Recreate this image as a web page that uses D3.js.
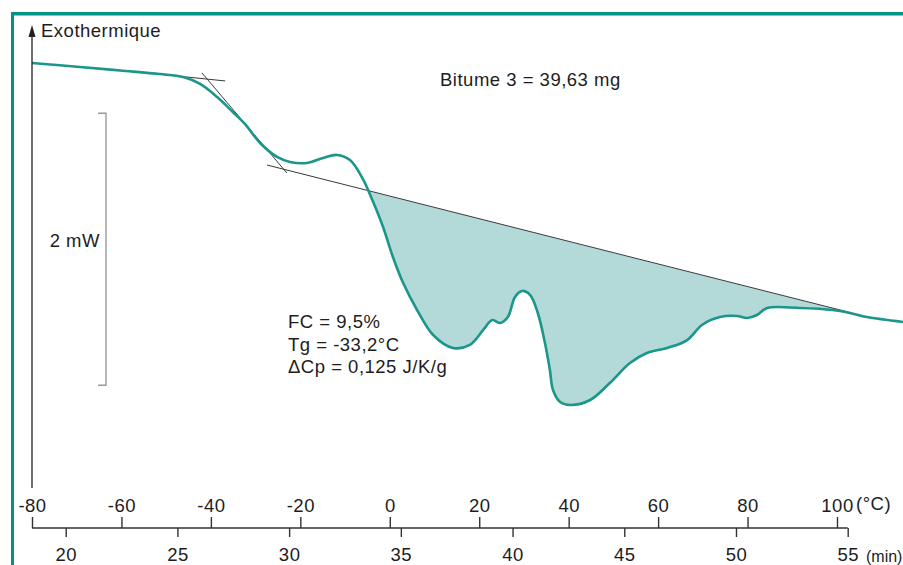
<!DOCTYPE html>
<html>
<head>
<meta charset="utf-8">
<script src="https://cdn.jsdelivr.net/npm/d3@7"></script>
<style>
	body { margin: 0; background: #fff; }
	svg { display: block; font-family: "Liberation Sans", Arial, sans-serif; }
	.lbl { font-size: 18.5px; fill: #1e1c1d; letter-spacing: 0.5px; }
	.axis text { font-size: 18.5px; fill: #1e1c1d; letter-spacing: 0.5px; }
	.axis line { stroke: #333; stroke-width: 1.4; }
</style>
</head>
<body>
<div id="chart"></div>
<script>
	// DSC trace (temperature in degC, heat flow in mW, arbitrary offset)
	var tempC = [-80, -69.3, -60.3, -51.4, -46.2, -42.4, -38.6, -35.1, -32.4, -29.0,
		-25.2, -22.3, -18.5, -14.9, -11.8, -8.9, -6.0, -3.8, -1.5, 0.7,
		3.0, 6.1, 9.7, 14.1, 17.9, 20.9, 22.9, 24.7, 26.4, 28.0,
		29.6, 31.4, 33.1, 34.7, 35.8, 36.5, 38.1, 40.3, 44.8, 49.2,
		53.7, 57.5, 62.0, 66.5, 69.8, 73.8, 77.6, 79.9, 82.1, 84.4,
		91.7, 99.1, 102.9, 106.7, 114.8];
	var heatFlow = [3.419, 3.390, 3.364, 3.338, 3.316, 3.265, 3.169, 3.059, 2.971, 2.831,
		2.728, 2.691, 2.684, 2.721, 2.743, 2.706, 2.566, 2.404, 2.213, 1.993,
		1.801, 1.603, 1.419, 1.324, 1.346, 1.456, 1.529, 1.507, 1.551, 1.699,
		1.743, 1.713, 1.581, 1.360, 1.162, 1.015, 0.926, 0.904, 0.941, 1.066,
		1.213, 1.287, 1.324, 1.382, 1.493, 1.551, 1.559, 1.544, 1.566, 1.618,
		1.618, 1.603, 1.581, 1.551, 1.515];

	// construction lines [ [T, mW], [T, mW] ]
	var upperTangent = [[-51.8, 3.338], [-36.8, 3.287]];
	var slopeTangent = [[-42.0, 3.346], [-23.0, 2.610]];
	var lowerBaseline = [[-27.45, 2.669], [103.35, 1.581]];

	var tempTicks = [-80, -60, -40, -20, 0, 20, 40, 60, 80, 100];
	var minTicks = [20, 25, 30, 35, 40, 45, 50, 55];
	var scaleBar = [1.05, 3.05]; // 2 mW bar

	var sampleLabel = "Bitume 3 = 39,63 mg";
	var resultLines = ["FC = 9,5%", "Tg = -33,2°C", "\u0394Cp = 0,125 J/K/g"];

	var WIDTH = 903, HEIGHT = 565, AXIS_Y = 528;
	var TEAL = "#1a968b", FRAME = "#009487", FILL = "#b3d9d9";

	var svg = d3.select("#chart").append("svg").attr("width", WIDTH).attr("height", HEIGHT);

	var xT = d3.scaleLinear().domain([-80, 100]).range([32, 837]);
	var xMin = d3.scaleLinear().domain([20, 55]).range([65.7, 847.7]);
	var yScale = d3.scaleLinear().domain([0, 3.5]).range([AXIS_Y, 52]);

	// frame
	svg.append("rect").attr("x", 11).attr("y", 12).attr("width", WIDTH - 11).attr("height", 3.5)
		.attr("fill", FRAME);
	svg.append("rect").attr("x", 11).attr("y", 12).attr("width", 3).attr("height", HEIGHT - 12)
		.attr("fill", FRAME);

	var data = tempC.map(function(t, i) { return { t: t, v: heatFlow[i] }; });

	function baseAt(t) {
		var a = lowerBaseline[0], b = lowerBaseline[1];
		return a[1] + (t - a[0]) * (b[1] - a[1]) / (b[0] - a[0]);
	}

	// clip: region below the baseline, between its ends
	var clipPts = [lowerBaseline[0], lowerBaseline[1]].map(function(p) {
		return [xT(p[0]), yScale(p[1])];
	});
	svg.append("defs").append("clipPath").attr("id", "under").append("polygon")
		.attr("points", [clipPts[0], clipPts[1], [clipPts[1][0], AXIS_Y], [clipPts[0][0], AXIS_Y]]
			.map(function(p) { return p.join(","); }).join(" "));

	var areaGen = d3.area().curve(d3.curveCatmullRom.alpha(0.5))
		.x(function(d) { return xT(d.t); })
		.y0(function(d) { return yScale(baseAt(d.t)); })
		.y1(function(d) { return yScale(d.v); });
	svg.append("path").attr("d", areaGen(data)).attr("fill", FILL).attr("clip-path", "url(#under)");

	// construction lines
	var segGen = d3.line().x(function(d) { return xT(d[0]); }).y(function(d) { return yScale(d[1]); });
	[upperTangent, slopeTangent, lowerBaseline].forEach(function(seg) {
		svg.append("path").attr("d", segGen(seg)).attr("stroke", "#3a3a3a")
			.attr("stroke-width", 1).attr("fill", "none");
	});

	// DSC curve
	var lineGen = d3.line().curve(d3.curveCatmullRom.alpha(0.5))
		.x(function(d) { return xT(d.t); })
		.y(function(d) { return yScale(d.v); });
	svg.append("path").attr("d", lineGen(data)).attr("stroke", TEAL).attr("stroke-width", 2.6)
		.attr("fill", "none");

	// vertical axis with arrow
	svg.append("line").attr("x1", xT(-80)).attr("x2", xT(-80)).attr("y1", 34).attr("y2", 488)
		.attr("stroke", "#231f20").attr("stroke-width", 1.3);
	svg.append("path").attr("d", "M" + xT(-80) + ",25 l-3.5,12 l7,0 z").attr("fill", "#231f20");
	svg.append("text").attr("class", "lbl").attr("x", 41).attr("y", 37).text("Exothermique");

	// 2 mW scale bar
	svg.append("path").attr("d", "M98," + yScale(scaleBar[1]) + " H106 V" + yScale(scaleBar[0]) + " H98")
		.attr("stroke", "#9a9a9a").attr("stroke-width", 1.4).attr("fill", "none");
	svg.append("text").attr("class", "lbl").attr("x", 100).attr("y", 247)
		.attr("text-anchor", "end").text("2 mW");

	// annotations
	svg.append("text").attr("class", "lbl").attr("x", 440).attr("y", 86).text(sampleLabel);
	resultLines.forEach(function(s, i) {
		svg.append("text").attr("class", "lbl").attr("x", 288).attr("y", 328 + i * 22.5).text(s);
	});

	// double horizontal axis
	svg.append("line").attr("x1", xT(-80)).attr("x2", xMin(55)).attr("y1", AXIS_Y).attr("y2", AXIS_Y)
		.attr("stroke", "#333").attr("stroke-width", 1.4);
	var topAxis = d3.axisTop(xT).tickValues(tempTicks).tickSize(11).tickPadding(5)
		.tickFormat(function(d) { return d; });
	svg.append("g").attr("class", "axis").attr("transform", "translate(0," + AXIS_Y + ")")
		.call(topAxis).call(function(g) { g.select(".domain").remove(); });
	var botAxis = d3.axisBottom(xMin).tickValues(minTicks).tickSize(9).tickPadding(11);
	svg.append("g").attr("class", "axis").attr("transform", "translate(0," + AXIS_Y + ")")
		.call(botAxis).call(function(g) { g.select(".domain").remove(); });

	svg.append("text").attr("class", "lbl").attr("x", 856).attr("y", 510).text("(°C)");
	// unit label squeezed so it stays inside the picture
	svg.append("text").attr("class", "lbl").attr("x", 866).attr("y", 562)
		.style("font-size", "16px").style("letter-spacing", "0px").text("(min)");
</script>
</body>
</html>
